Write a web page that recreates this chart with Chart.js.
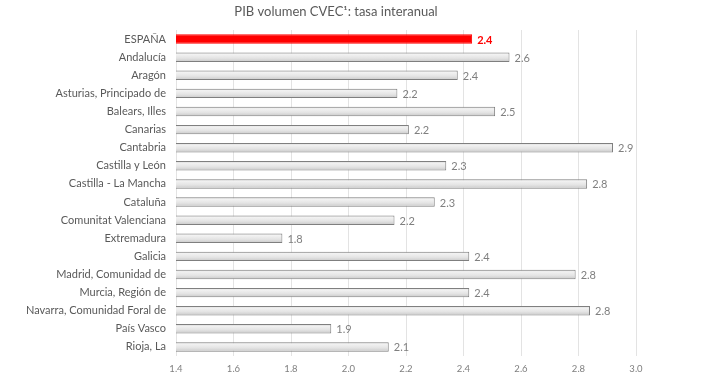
<!DOCTYPE html>
<html>
<head>
<meta charset="utf-8">
<script src="https://cdn.jsdelivr.net/npm/chart.js@4/dist/chart.umd.min.js"></script>
<style>
  html, body { margin: 0; padding: 0; background: #ffffff; }
  #wrap { width: 720px; height: 380px; }
</style>
</head>
<body>
<div id="wrap"><canvas id="c" width="720" height="380"></canvas></div>
<script>
const chartTitle = "PIB volumen CVEC\u00B9: tasa interanual";
const regiones = [
  "ESPAÑA", "Andalucía", "Aragón", "Asturias, Principado de", "Balears, Illes",
  "Canarias", "Cantabria", "Castilla y León", "Castilla - La Mancha", "Cataluña",
  "Comunitat Valenciana", "Extremadura", "Galicia", "Madrid, Comunidad de",
  "Murcia, Región de", "Navarra, Comunidad Foral de", "País Vasco", "Rioja, La"
];
const tasas = [
  2.43, 2.56, 2.38, 2.17, 2.51,
  2.21, 2.92, 2.34, 2.83, 2.30,
  2.16, 1.77, 2.42, 2.79,
  2.42, 2.84, 1.94, 2.14
];
const ejeMin = 1.4;
const ejeMax = 3.0;
const ejePaso = 0.2;

const FONT = "Lato, 'Open Sans', sans-serif";

function barFill(ctx) {
  if (ctx.dataIndex === 0) return "#ff0000";
  const chart = ctx.chart;
  const ys = chart.scales && chart.scales.y;
  if (!ys || !chart.chartArea) return "#dcdcdc";
  const cy = ys.getPixelForValue(ctx.dataIndex);
  const h = 9.5;
  if (!isFinite(cy)) return "#dcdcdc";
  const g = chart.ctx.createLinearGradient(0, cy - h / 2, 0, cy + h / 2);
  g.addColorStop(0, "#c4c4c4");
  g.addColorStop(0.2, "#f2f2f2");
  g.addColorStop(0.6, "#e4e4e4");
  g.addColorStop(1, "#c8c8c8");
  return g;
}

const titlePlugin = {
  id: "customTitle",
  afterDraw(chart) {
    const c = chart.ctx;
    c.save();
    c.font = "13px " + FONT;
    c.fillStyle = "#595959";
    c.textAlign = "center";
    c.textBaseline = "middle";
    c.fillText(chartTitle, 336, 12);
    c.restore();
  }
};

const valueLabels = {
  id: "valueLabels",
  afterDatasetsDraw(chart) {
    const c = chart.ctx;
    const meta = chart.getDatasetMeta(0);
    c.save();
    c.textBaseline = "middle";
    c.textAlign = "left";
    meta.data.forEach((el, i) => {
      const v = chart.data.datasets[0].data[i];
      if (i === 0) {
        c.font = "bold 11px " + FONT;
        c.fillStyle = "#ff0000";
      } else {
        c.font = "11px " + FONT;
        c.fillStyle = "#7f7f7f";
      }
      c.fillText(v.toFixed(1), el.x + 5, el.y + 1);
    });
    c.restore();
  }
};

new Chart(document.getElementById("c"), {
  type: "bar",
  data: {
    labels: regiones,
    datasets: [{
      data: tasas,
      backgroundColor: barFill,
      borderColor: (ctx) => ctx.dataIndex === 0 ? "#ff0000" : "#7f7f7f",
      borderWidth: 1,
      borderSkipped: false,
      barPercentage: 0.52,
      categoryPercentage: 1.0
    }]
  },
  options: {
    indexAxis: "y",
    responsive: false,
    animation: false,
    layout: { padding: { top: 30, right: 84, bottom: 0, left: 0 } },
    plugins: {
      legend: { display: false },
      title: { display: false },
      tooltip: { enabled: false }
    },
    scales: {
      x: {
        min: ejeMin,
        max: ejeMax,
        grid: { color: "#e3e3e3", lineWidth: 1, drawTicks: false },
        border: { display: false },
        ticks: {
          stepSize: ejePaso,
          padding: 7,
          color: "#7f7f7f",
          font: { family: FONT, size: 9.5 },
          callback: (v) => Number(v).toFixed(1)
        },
        afterFit: (s) => { s.height = 24; }
      },
      y: {
        grid: { display: false, drawTicks: false },
        border: { display: false },
        ticks: {
          padding: 10,
          color: "#595959",
          autoSkip: false,
          font: { family: FONT, size: 11 }
        },
        afterFit: (s) => { s.width = 176; }
      }
    }
  },
  plugins: [titlePlugin, valueLabels]
});
</script>
</body>
</html>
